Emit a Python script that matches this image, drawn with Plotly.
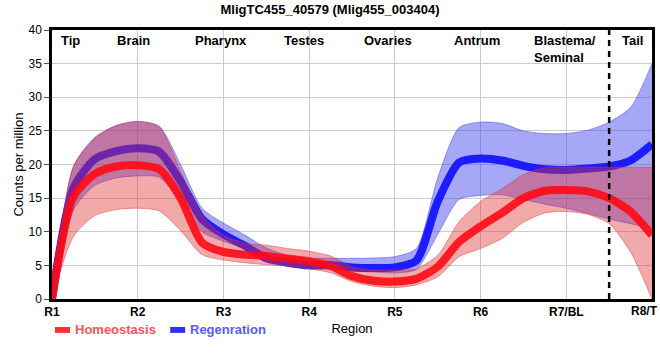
import plotly.graph_objects as go

# ---------------- data ----------------
x_pos = [1, 1.25, 1.5, 1.75, 2, 2.25, 2.5, 2.75, 3, 3.25, 3.5, 3.75, 4, 4.25, 4.5,
         4.75, 5, 5.25, 5.5, 5.75, 6, 6.25, 6.5, 6.75, 7, 7.25, 7.5, 7.75, 8]

homeo_mean = [0, 15.2, 18.6, 19.7, 19.9, 19.3, 15.0, 8.4, 7.0, 6.6, 6.4, 6.0, 5.6, 4.9, 3.4,
              2.7, 2.6, 3.0, 4.8, 8.5, 10.8, 12.8, 15.0, 16.1, 16.2, 16.0, 15.0, 13.0, 9.5]
homeo_upper = [0, 19.7, 24.0, 25.8, 26.4, 25.6, 19.0, 12.5, 9.5, 8.3, 8.0, 7.5, 7.1, 6.4, 4.8,
               4.3, 4.3, 4.5, 6.5, 11.5, 14.5, 16.4, 18.5, 19.5, 19.6, 19.6, 19.6, 19.6, 19.6]
homeo_lower = [0, 9.3, 12.4, 13.3, 13.5, 13.1, 10.2, 6.6, 5.8, 5.4, 5.1, 4.9, 4.5, 3.9, 2.6,
               1.9, 1.7, 2.1, 3.3, 6.3, 7.5, 9.0, 11.4, 12.8, 13.0, 12.6, 11.2, 7.0, 0]

regen_mean = [0, 16.5, 20.8, 22.0, 22.4, 21.9, 17.5, 11.9, 9.6, 7.9, 6.05, 5.4, 5.0, 5.05, 4.7,
              4.6, 4.7, 5.7, 14.5, 20.3, 20.9, 20.6, 19.8, 19.3, 19.2, 19.4, 19.7, 20.6, 23.0]
regen_upper = [0, 19.7, 24.0, 25.8, 26.4, 25.7, 20.0, 13.5, 11.3, 9.5, 7.6, 6.5, 6.1, 6.05, 6.05,
               6.1, 6.3, 7.5, 18.0, 25.5, 26.3, 26.1, 25.0, 24.6, 24.6, 25.1, 26.3, 28.5, 35.0]
regen_lower = [0, 13.2, 16.9, 18.0, 18.3, 18.1, 14.5, 10.0, 8.6, 7.5, 6.2, 5.2, 4.6, 4.4, 4.2,
               4.0, 3.9, 4.4, 9.6, 14.8, 15.4, 15.5, 14.8, 14.1, 13.5, 12.7, 11.9, 11.2, 10.5]

tick_vals = [1, 2, 3, 4, 5, 6, 7, 8]
tick_labels = ["R1", "R2", "R3", "R4", "R5", "R6", "R7/BL", "R8/T"]

region_names = ["Tip", "Brain", "Pharynx", "Testes", "Ovaries", "Antrum", "Blastema/<br>Seminal", "Tail"]
region_x = [1.22, 1.95, 2.97, 3.94, 4.92, 5.96, 6.99, 7.77]

tail_boundary = 7.5

title_text = "MligTC455_40579 (Mlig455_003404)"

# ---------------- styles ----------------
FONT = "Liberation Sans, Arial, sans-serif"
RED_LINE = "rgba(255,10,20,0.9)"
RED_FILL = "rgba(225,50,50,0.42)"
RED_EDGE = "rgba(225,50,50,0.6)"
BLUE_LINE = "rgba(20,20,255,0.95)"
BLUE_FILL = "rgba(60,60,240,0.45)"
BLUE_EDGE = "rgba(60,60,240,0.6)"
SM = 0.7

fig = go.Figure()

# Regeneration band + line
fig.add_trace(go.Scatter(x=x_pos, y=regen_upper, mode="lines",
                         line=dict(color=BLUE_EDGE, width=0.8, shape="spline", smoothing=SM),
                         showlegend=False, hoverinfo="skip"))
fig.add_trace(go.Scatter(x=x_pos, y=regen_lower, mode="lines", fill="tonexty", fillcolor=BLUE_FILL,
                         line=dict(color=BLUE_EDGE, width=0.8, shape="spline", smoothing=SM),
                         showlegend=False, hoverinfo="skip"))
fig.add_trace(go.Scatter(x=x_pos, y=regen_mean, mode="lines",
                         line=dict(color=BLUE_LINE, width=8, shape="spline", smoothing=SM),
                         showlegend=False))

# Homeostasis band + line
fig.add_trace(go.Scatter(x=x_pos, y=homeo_upper, mode="lines",
                         line=dict(color=RED_EDGE, width=0.8, shape="spline", smoothing=SM),
                         showlegend=False, hoverinfo="skip"))
fig.add_trace(go.Scatter(x=x_pos, y=homeo_lower, mode="lines", fill="tonexty", fillcolor=RED_FILL,
                         line=dict(color=RED_EDGE, width=0.8, shape="spline", smoothing=SM),
                         showlegend=False, hoverinfo="skip"))
fig.add_trace(go.Scatter(x=x_pos, y=homeo_mean, mode="lines",
                         line=dict(color=RED_LINE, width=8, shape="spline", smoothing=SM),
                         showlegend=False))

# tail boundary
fig.add_shape(type="line", xref="x", yref="paper", x0=tail_boundary, x1=tail_boundary, y0=0, y1=1,
              line=dict(color="black", width=2.5, dash="6px,5px"))

# region labels
for name, xv in zip(region_names, region_x):
    fig.add_annotation(x=xv, y=1, xref="x", yref="paper", yanchor="top", yshift=-1,
                       text="<b>" + name + "</b>", showarrow=False, align="left",
                       font=dict(family=FONT, size=13, color="black"))

# last tick label drawn as annotation, nudged so it stays inside the page
fig.add_annotation(x=tick_vals[-1], y=0, xref="x", yref="paper", yanchor="top", xanchor="center",
                   xshift=-8, yshift=-3, text="<b>" + tick_labels[-1] + "</b>", showarrow=False,
                   font=dict(family=FONT, size=12, color="black"))

# manual legend
fig.add_shape(type="rect", xref="paper", yref="paper", x0=0.005, x1=0.03, y0=-0.126, y1=-0.104,
              fillcolor="#ff3030", line=dict(width=0))
fig.add_annotation(xref="paper", yref="paper", x=0.035, y=-0.115, xanchor="left", yanchor="middle",
                   text="<b>Homeostasis</b>", showarrow=False,
                   font=dict(family=FONT, size=13, color="#ff5060"))
fig.add_shape(type="rect", xref="paper", yref="paper", x0=0.197, x1=0.222, y0=-0.126, y1=-0.104,
              fillcolor="#3030ff", line=dict(width=0))
fig.add_annotation(xref="paper", yref="paper", x=0.227, y=-0.115, xanchor="left", yanchor="middle",
                   text="<b>Regenration</b>", showarrow=False,
                   font=dict(family=FONT, size=13, color="#5a5aff"))

fig.update_layout(
    width=660, height=360,
    margin=dict(l=52, r=8, t=30, b=61, autoexpand=False),
    paper_bgcolor="white", plot_bgcolor="white",
    title=dict(text="<b>" + title_text + "</b>", x=0.5, xanchor="center", y=0.975, yanchor="middle",
               font=dict(family=FONT, size=13, color="black")),
    font=dict(family=FONT, size=12, color="black"),
    showlegend=False,
)
fig.update_xaxes(range=[1, 8], tickvals=tick_vals,
                 ticktext=["<b>" + t + "</b>" for t in tick_labels[:-1]] + [""],
                 automargin=False,
                 showgrid=True, gridcolor="#cccccc", gridwidth=1,
                 showline=True, linecolor="black", linewidth=2.5, mirror=True,
                 ticks="", zeroline=False,
                 title=dict(text="Region", font=dict(family=FONT, size=13), standoff=6),
                 tickfont=dict(family=FONT, size=12, color="black"))
fig.update_yaxes(range=[0, 40], dtick=5, automargin=False,
                 showgrid=True, gridcolor="#cccccc", gridwidth=1,
                 showline=True, linecolor="black", linewidth=2.5, mirror=True,
                 ticks="outside", ticklen=5, tickcolor="#555", zeroline=False,
                 title=dict(text="Counts per million", font=dict(family=FONT, size=13), standoff=2),
                 tickfont=dict(family=FONT, size=12, color="black"))

fig.write_html("out.html", config={"displayModeBar": False},
               post_script="document.body.style.margin='0';document.body.style.padding='0';")
